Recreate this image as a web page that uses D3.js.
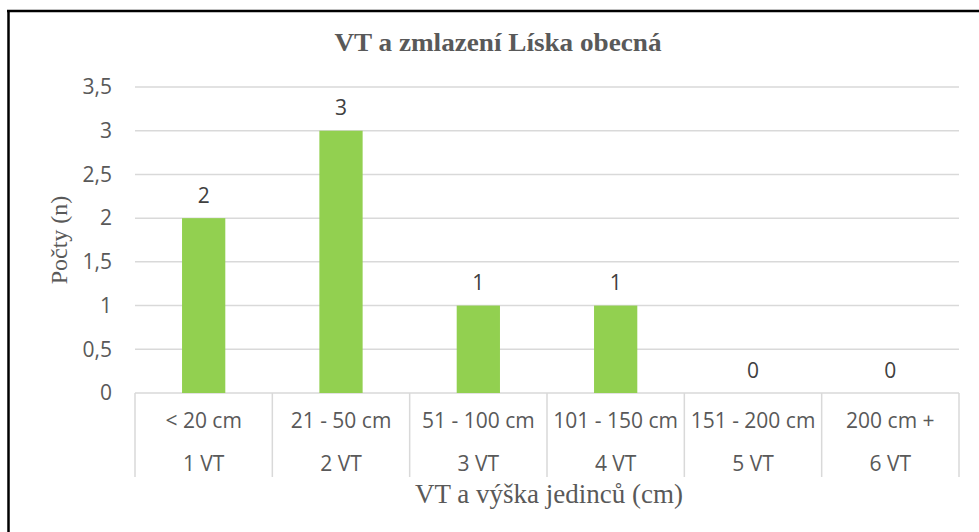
<!DOCTYPE html>
<html><head><meta charset="utf-8">
<script src="https://cdn.jsdelivr.net/npm/d3@7"></script>
<style>body{margin:0;background:#fff}svg{display:block}</style>
</head><body>
<script>
const heights = ["< 20 cm","21 - 50 cm","51 - 100 cm","101 - 150 cm","151 - 200 cm","200 cm +"];
const classes = ["1 VT","2 VT","3 VT","4 VT","5 VT","6 VT"];
const counts = [2,3,1,1,0,0];
const yTicks = [0,0.5,1,1.5,2,2.5,3,3.5];
const title = "VT a zmlazení Líska obecná";
const xTitle = "VT a výška jedinců (cm)";
const yTitle = "Počty (n)";

const W = 979, H = 532;
const svg = d3.select("body").append("svg").attr("width", W).attr("height", H);
const plot = {left:135, right:959, top:87, bottom:393};
const x = d3.scaleBand().domain(d3.range(counts.length)).range([plot.left, plot.right]).paddingInner(0).paddingOuter(0);
const y = d3.scaleLinear().domain([0,3.5]).range([plot.bottom, plot.top]);
const sans = "'Open Sans', 'Liberation Sans', sans-serif";
const serif = "'Liberation Serif', 'DejaVu Serif', serif";
const fs = 21;

// frame (left & top)
svg.append("line").attr("x1",8.5).attr("x2",8.5).attr("y1",10).attr("y2",H).attr("stroke","#000").attr("stroke-width",2.5);
svg.append("line").attr("x1",7).attr("x2",W).attr("y1",11).attr("y2",11).attr("stroke","#000").attr("stroke-width",2.5);

// gridlines
svg.append("g").selectAll("line").data(yTicks).join("line")
  .attr("x1",plot.left).attr("x2",plot.right)
  .attr("y1",d=>y(d)).attr("y2",d=>y(d))
  .attr("stroke","#d9d9d9").attr("stroke-width",1.5);

// y tick labels
svg.append("g").selectAll("text").data(yTicks).join("text")
  .attr("x",112).attr("y",d=>y(d)).attr("dy","0.35em")
  .attr("text-anchor","end").attr("font-family",sans).attr("font-size",fs).attr("fill","#595959")
  .text(d=>String(d).replace(".",","));

// bars
const bw = x.bandwidth()*0.315;
svg.append("g").selectAll("rect").data(counts).join("rect")
  .attr("x",(d,i)=>x(i)+x.bandwidth()/2-bw/2).attr("width",bw)
  .attr("y",d=>y(d)).attr("height",d=>y(0)-y(d))
  .attr("fill","#92d050");

// value labels
svg.append("g").selectAll("text").data(counts).join("text")
  .attr("x",(d,i)=>x(i)+x.bandwidth()/2).attr("y",d=>y(d)-15.5)
  .attr("text-anchor","middle").attr("font-family",sans).attr("font-size",fs).attr("fill","#404040")
  .text(d=>d);

// category dividers
const bounds = d3.range(counts.length+1).map(i=> i<counts.length ? x(i) : plot.right);
svg.append("g").selectAll("line").data(bounds).join("line")
  .attr("x1",d=>d).attr("x2",d=>d).attr("y1",plot.bottom).attr("y2",477)
  .attr("stroke","#d9d9d9").attr("stroke-width",1.5);

// category labels
svg.append("g").selectAll("text").data(heights).join("text")
  .attr("x",(d,i)=>x(i)+x.bandwidth()/2).attr("y",421).attr("dy","0.35em")
  .attr("text-anchor","middle").attr("font-family",sans).attr("font-size",fs).attr("fill","#595959")
  .text(d=>d);
svg.append("g").selectAll("text").data(classes).join("text")
  .attr("x",(d,i)=>x(i)+x.bandwidth()/2).attr("y",464).attr("dy","0.35em")
  .attr("text-anchor","middle").attr("font-family",sans).attr("font-size",fs).attr("fill","#595959")
  .text(d=>d);

// titles
svg.append("text").attr("x",498).attr("y",51).attr("text-anchor","middle")
  .attr("font-family",serif).attr("font-weight","bold").attr("font-size",25).attr("fill","#595959")
  .attr("textLength",327).attr("lengthAdjust","spacingAndGlyphs").text(title);
svg.append("text").attr("x",549).attr("y",503).attr("text-anchor","middle")
  .attr("font-family",serif).attr("font-size",27).attr("fill","#595959").text(xTitle);
svg.append("text").attr("transform","translate(67,240) rotate(-90)").attr("text-anchor","middle")
  .attr("font-family",serif).attr("font-size",24).attr("fill","#595959").text(yTitle);
</script>
</body></html>
